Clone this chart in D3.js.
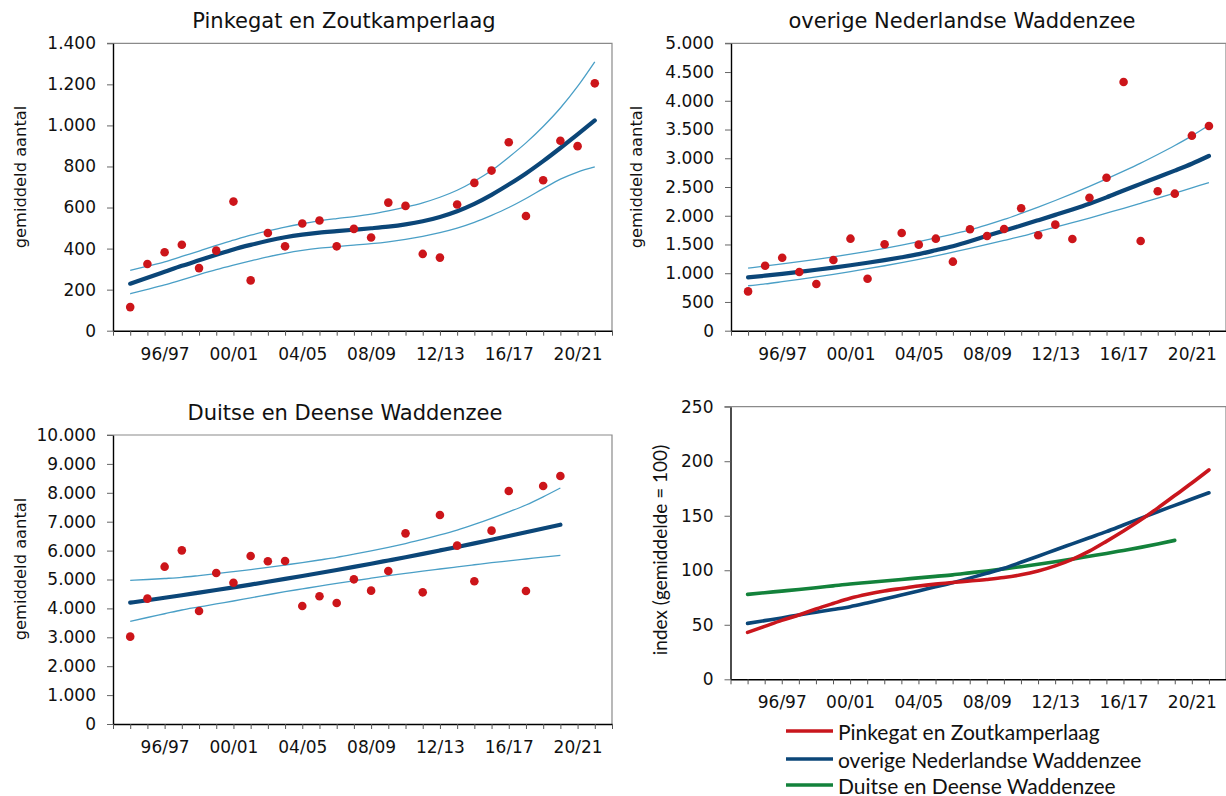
<!doctype html>
<html lang="nl">
<head>
<meta charset="utf-8">
<script src="https://cdn.jsdelivr.net/npm/d3@7"></script>
<style>
  body { margin: 0; background: #fff; }
  svg { display: block; }
  .tick text { font-family: "DejaVu Sans", sans-serif; font-size: 17px; fill: #111; }
  .title { font-family: "DejaVu Sans", sans-serif; font-size: 21px; fill: #111; }
  .ytitle { font-family: "DejaVu Sans", sans-serif; font-size: 16.3px; fill: #111; }
  .legend text, .ytitle-idx { font-family: Lato, "Open Sans", sans-serif; fill: #111; }
</style>
</head>
<body>
<svg id="chart" width="1226" height="796"></svg>
<script>
// winter seasons, first season sits on tick 1
const seasons = ['94/95','95/96','96/97','97/98','98/99','99/00','00/01','01/02','02/03','03/04',
  '04/05','05/06','06/07','07/08','08/09','09/10','10/11','11/12','12/13','13/14',
  '14/15','15/16','16/17','17/18','18/19','19/20','20/21','21/22'];
const xLabels = ['96/97','00/01','04/05','08/09','12/13','16/17','20/21'];

// Pinkegat en Zoutkamperlaag
const pinkCounts = [115, 325, 382, 419, 305, 390, 629, 245, 476, 411, 522, 537, 411, 496,
  454, 624, 608, 374, 356, 615, 720, 780, 918, 559, 733, 925, 899, 1205];
const pinkTrend = [229, 258, 287, 316, 343, 370, 396, 418, 438, 455, 468, 478, 485, 492,
  499, 507, 518, 533, 554, 582, 618, 662, 712, 766, 826, 890, 956, 1024];
const pinkUpper = [294, 314, 335, 362, 388, 416, 441, 465, 486, 505, 521, 535, 546, 556,
  568, 584, 602, 623, 650, 684, 728, 780, 845, 915, 995, 1085, 1190, 1310];
const pinkLower = [180, 201, 223, 248, 273, 297, 319, 340, 360, 377, 391, 402, 410, 417,
  424, 433, 445, 460, 478, 500, 528, 562, 600, 644, 692, 738, 773, 798];

// overige Nederlandse Waddenzee
const neCounts = [684, 1131, 1270, 1021, 813, 1230, 1601, 905, 1503, 1700, 1497, 1601, 1201, 1764,
  1648, 1770, 2130, 1660, 1845, 1596, 2314, 2662, 4327, 1561, 2425, 2384, 3393, 3562];
const neTrend = [927, 957, 990, 1025, 1060, 1098, 1138, 1182, 1228, 1278, 1333, 1400, 1470, 1555,
  1650, 1740, 1830, 1922, 2015, 2110, 2210, 2320, 2440, 2555, 2670, 2785, 2905, 3040];
const neUpper = [1089, 1125, 1162, 1201, 1242, 1286, 1332, 1381, 1433, 1489, 1549, 1613, 1681, 1753,
  1840, 1935, 2040, 2150, 2265, 2385, 2510, 2640, 2775, 2915, 3065, 3222, 3390, 3575];
const neLower = [782, 813, 852, 893, 936, 981, 1029, 1079, 1130, 1183, 1240, 1300, 1365, 1432,
  1500, 1570, 1642, 1722, 1800, 1880, 1960, 2045, 2130, 2217, 2305, 2395, 2485, 2575];

// Duitse en Deense Waddenzee (t/m 19/20)
const dkCounts = [3022, 4337, 5444, 6009, 3910, 5225, 4890, 5813, 5629, 5640, 4083, 4418, 4187,
  5006, 4614, 5294, 6597, 4556, 7232, 6171, 4937, 6690, 8062, 4602, 8235, 8581];
const dkTrend = [4198, 4282, 4369, 4456, 4546, 4637, 4730, 4825, 4922, 5021, 5122, 5225, 5330,
  5437, 5546, 5658, 5771, 5887, 6006, 6126, 6249, 6375, 6503, 6634, 6767, 6897];
const dkUpper = [4971, 5000, 5035, 5075, 5135, 5200, 5271, 5345, 5420, 5502, 5585, 5675, 5767,
  5875, 5990, 6113, 6245, 6385, 6540, 6710, 6905, 7116, 7340, 7578, 7860, 8166];
const dkLower = [3552, 3685, 3815, 3945, 4050, 4155, 4256, 4365, 4472, 4579, 4675, 4770, 4867,
  4957, 5045, 5133, 5210, 5288, 5363, 5437, 5510, 5582, 5645, 5709, 5773, 5836];

// index (gemiddelde = 100)
const idxPink = [43, 48.5, 54, 59, 64.5, 69.5, 74.3, 78, 81, 83.3, 85.5, 87.3, 88.8, 90.2,
  91.6, 93.3, 95.8, 99.3, 104, 110, 117.5, 126.5, 136, 146, 157, 168.5, 180, 192];
const idxNe = [51.3, 53.8, 56.3, 59, 61.5, 64, 66.6, 70, 73.6, 77.3, 81, 84.8, 88.6, 92.8,
  97.2, 101.8, 107.3, 112.9, 118.6, 124.2, 129.8, 135.4, 141.5, 147.6, 153.7, 159.5, 165.3, 171.1];
const idxDk = [77.9, 79.4, 80.9, 82.4, 84, 85.7, 87.4, 88.8, 90.2, 91.6, 93, 94.4, 95.8, 97.6,
  99.4, 101.3, 103.3, 105.5, 107.8, 110.2, 112.8, 115.4, 118.2, 121, 124.1, 127.4];

const legendNames = ['Pinkegat en Zoutkamperlaag', 'overige Nederlandse Waddenzee', 'Duitse en Deense Waddenzee'];
const legendColors = ['#c9161d', '#0b4678', '#13823b'];

const nl = d3.formatLocale({ decimal: ',', thousands: '.', grouping: [3], currency: ['€', ''] });
const fmt = nl.format(',d');

const svg = d3.select('#chart');

function drawPanel(p) {
  var x = d3.scaleLinear().domain([0, seasons.length + 1]).range([p.left, p.right]);
  var y = d3.scaleLinear().domain([0, p.max]).range([p.bottom, p.top]);
  var g = svg.append('g');

  // grey frame top + right
  g.append('path')
    .attr('d', `M${p.left - 6},${p.top}H${p.right}V${p.bottom}`)
    .attr('fill', 'none').attr('stroke', '#8a8a8a').attr('stroke-width', 1.2);

  var yAxis = g.append('g')
    .attr('transform', `translate(${p.left},0)`)
    .call(d3.axisLeft(y).tickValues(d3.range(0, p.max + 1, p.step)).tickFormat(fmt)
      .tickSize(6).tickSizeOuter(0).tickPadding(11));
  yAxis.selectAll('.tick line').attr('stroke', '#666');

  var xAxis = g.append('g')
    .attr('transform', `translate(0,${p.bottom})`)
    .call(d3.axisBottom(x).tickValues(d3.range(0, seasons.length + 2))
      .tickFormat(i => xLabels.includes(seasons[i - 1]) ? seasons[i - 1] : '')
      .tickSize(5).tickSizeOuter(0).tickPadding(12));
  xAxis.selectAll('.tick line').attr('stroke', '#555');

  g.selectAll('.domain').attr('stroke', '#000').attr('stroke-width', 1.4);

  var line = d3.line().x((d, i) => x(i + 1)).y(d => y(d)).curve(d3.curveMonotoneX);

  if (p.bands) {
    p.bands.forEach(b => {
      g.append('path').attr('d', line(b)).attr('fill', 'none')
        .attr('stroke', '#4a9fc6').attr('stroke-width', 1.3);
    });
  }
  (p.lines || []).forEach(l => {
    g.append('path').attr('d', line(l.values)).attr('fill', 'none')
      .attr('stroke', l.color).attr('stroke-width', l.width).attr('stroke-linecap', 'round');
  });
  if (p.counts) {
    g.selectAll('circle').data(p.counts).join('circle')
      .attr('cx', (d, i) => x(i + 1)).attr('cy', d => y(d))
      .attr('r', 4.3).attr('fill', '#cc151a');
  }

  if (p.title) {
    svg.append('text').attr('class', 'title')
      .attr('x', p.titleX).attr('y', p.titleY).attr('text-anchor', 'middle').text(p.title);
  }
  svg.append('text').attr('class', p.yTitleClass || 'ytitle')
    .attr('transform', `translate(${p.yTitleX},${p.yTitleY}) rotate(-90)`)
    .attr('text-anchor', 'middle').attr('dominant-baseline', 'central')
    .style('font-size', p.yTitleSize || null)
    .text(p.yTitle);
}

drawPanel({
  left: 113, right: 612, top: 43.3, bottom: 330.7, max: 1400, step: 200,
  counts: pinkCounts, bands: [pinkUpper, pinkLower],
  lines: [{ values: pinkTrend, color: '#0b4678', width: 4.2 }],
  title: 'Pinkegat en Zoutkamperlaag', titleX: 344, titleY: 28,
  yTitle: 'gemiddeld aantal', yTitleX: 20, yTitleY: 177
});

drawPanel({
  left: 731, right: 1226, top: 43.3, bottom: 330.7, max: 5000, step: 500,
  counts: neCounts, bands: [neUpper, neLower],
  lines: [{ values: neTrend, color: '#0b4678', width: 4.2 }],
  title: 'overige Nederlandse Waddenzee', titleX: 962, titleY: 28,
  yTitle: 'gemiddeld aantal', yTitleX: 636, yTitleY: 177
});

drawPanel({
  left: 113, right: 612, top: 435, bottom: 724, max: 10000, step: 1000,
  counts: dkCounts, bands: [dkUpper, dkLower],
  lines: [{ values: dkTrend, color: '#0b4678', width: 4.2 }],
  title: 'Duitse en Deense Waddenzee', titleX: 345, titleY: 420,
  yTitle: 'gemiddeld aantal', yTitleX: 20, yTitleY: 569
});

drawPanel({
  left: 730.5, right: 1226, top: 406.7, bottom: 679.3, max: 250, step: 50,
  lines: [
    { values: idxDk, color: legendColors[2], width: 3.6 },
    { values: idxNe, color: legendColors[1], width: 3.6 },
    { values: idxPink, color: legendColors[0], width: 3.6 }
  ],
  yTitle: 'index (gemiddelde = 100)', yTitleX: 659, yTitleY: 550,
  yTitleClass: 'ytitle-idx', yTitleSize: '19px'
});

// legend under the index chart
const legend = svg.append('g').attr('class', 'legend');
legendNames.forEach((name, i) => {
  var yy = [731, 759, 785][i];
  legend.append('line').attr('x1', 786).attr('x2', 833).attr('y1', yy).attr('y2', yy)
    .attr('stroke', legendColors[i]).attr('stroke-width', 3.6);
  legend.append('text').attr('x', 838).attr('y', yy).attr('dominant-baseline', 'central')
    .style('font-size', '21px').text(name);
});
</script>
</body>
</html>
